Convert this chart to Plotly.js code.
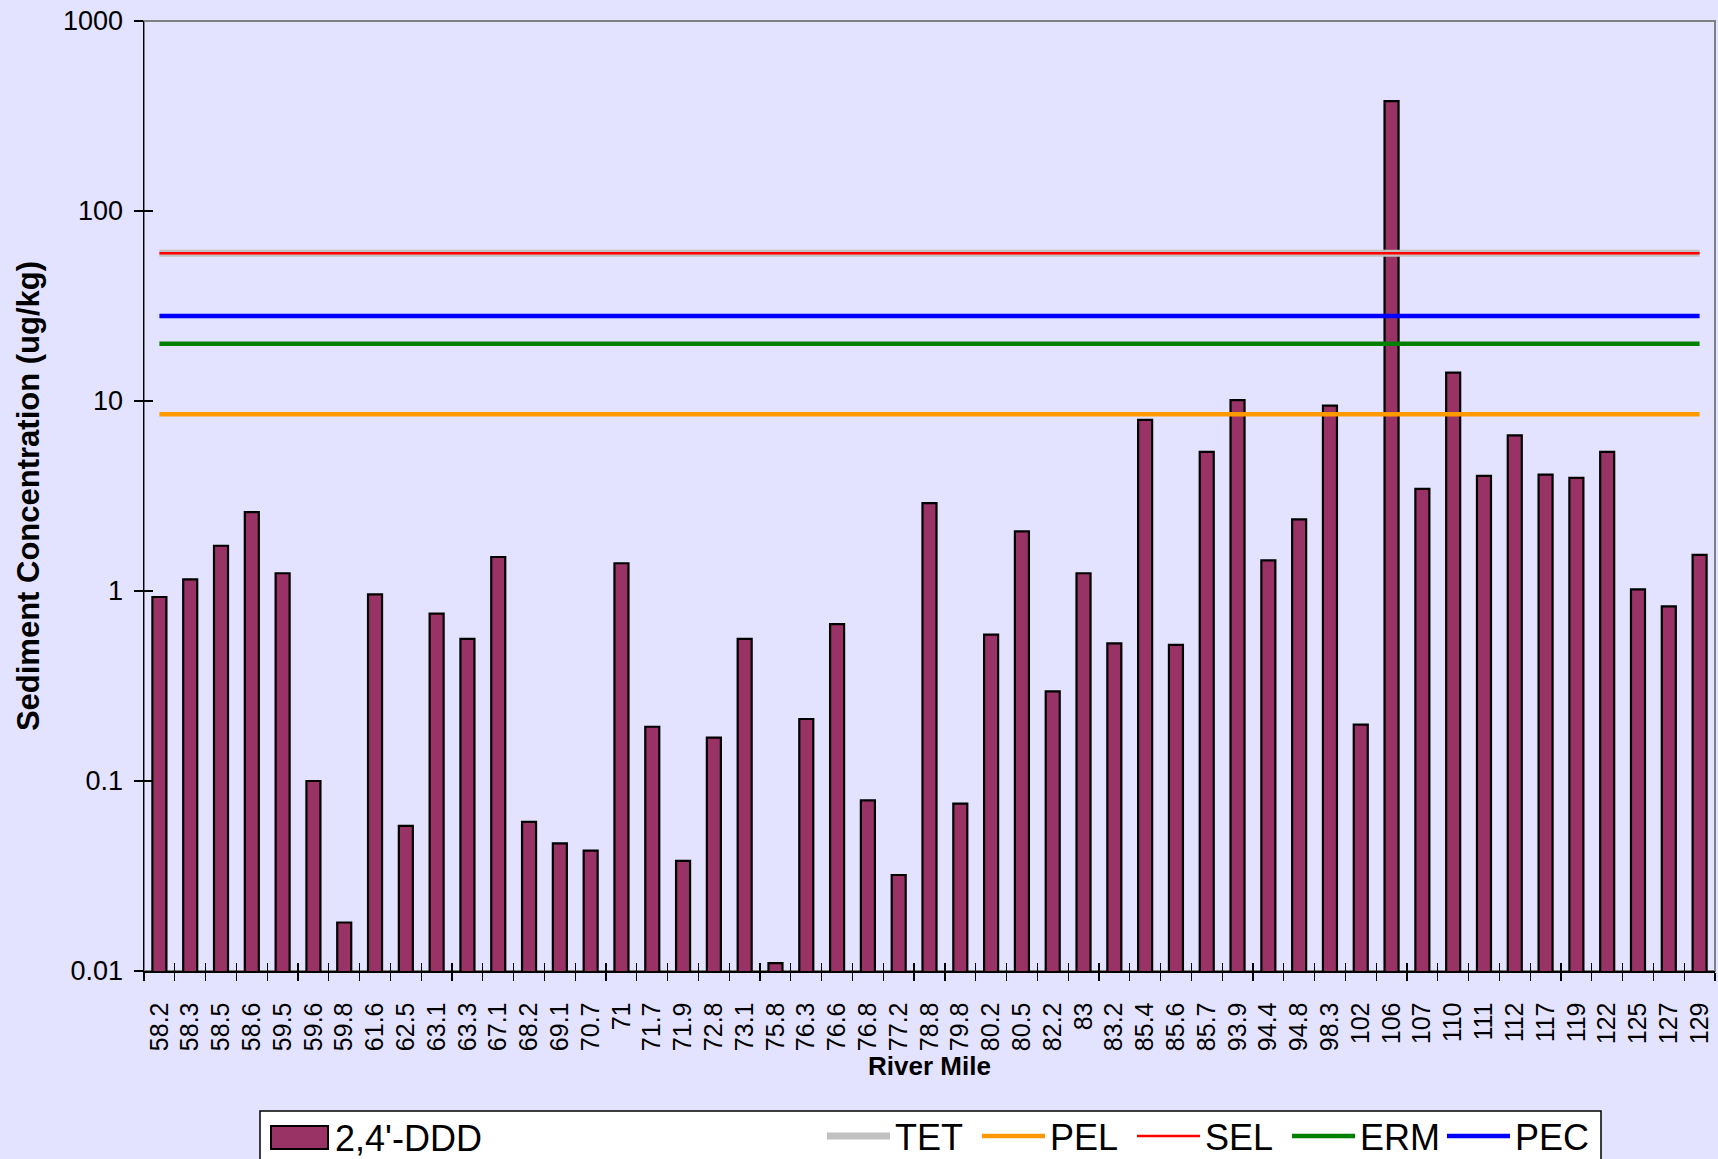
<!DOCTYPE html>
<html>
<head>
<meta charset="utf-8">
<script src="https://cdn.plot.ly/plotly-3.0.1.min.js"></script>
<style>
  html, body { margin: 0; padding: 0; background: #E3E3FF; }
  #chart { width: 1718px; height: 1159px; }
</style>
</head>
<body>
<div id="chart"></div>
<script>
// River mile categories
const riverMiles = ["58.2","58.3","58.5","58.6","59.5","59.6","59.8","61.6","62.5","63.1",
  "63.3","67.1","68.2","69.1","70.7","71","71.7","71.9","72.8","73.1",
  "75.8","76.3","76.6","76.8","77.2","78.8","79.8","80.2","80.5","82.2",
  "83","83.2","85.4","85.6","85.7","93.9","94.4","94.8","98.3","102",
  "106","107","110","111","112","117","119","122","125","127","129"];

// 2,4'-DDD sediment concentration (ug/kg)
const ddd = [0.93,1.15,1.73,2.6,1.24,0.1,0.018,0.96,0.058,0.76,
  0.56,1.51,0.061,0.047,0.043,1.4,0.193,0.038,0.169,0.56,
  0.011,0.212,0.67,0.079,0.032,2.9,0.076,0.59,2.06,0.296,
  1.24,0.53,7.96,0.52,5.4,10.1,1.45,2.38,9.46,0.198,
  379,3.45,14.1,4.04,6.6,4.1,3.94,5.4,1.02,0.83,1.55];

// Screening guideline values (ug/kg)
const TET = [60, 60];
const PEL = [8.51, 8.51];
const SEL = [60, 60];
const ERM = [20, 20];
const PEC = [28, 28];

const yTickVals = [0.01, 0.1, 1, 10, 100, 1000];
const yTickText = ["0.01", "0.1", "1", "10", "100", "1000"];

const lineX = [riverMiles[0], riverMiles[riverMiles.length - 1]];
const FONT = "Liberation Sans, Arial, sans-serif";
const BG = "#E3E3FF";

const traces = [
  {
    type: "bar", name: "2,4'-DDD", x: riverMiles, y: ddd,
    marker: { color: "#993366", line: { color: "#000000", width: 2.2 } },
    showlegend: false
  },
  { type: "scatter", mode: "lines", name: "TET", x: lineX, y: TET,
    line: { color: "#C0C0C0", width: 7 }, legend: "legend2" },
  { type: "scatter", mode: "lines", name: "PEL", x: lineX, y: PEL,
    line: { color: "#FF9900", width: 4.5 }, legend: "legend2" },
  { type: "scatter", mode: "lines", name: "SEL", x: lineX, y: SEL,
    line: { color: "#FF0000", width: 2.5 }, legend: "legend2" },
  { type: "scatter", mode: "lines", name: "ERM", x: lineX, y: ERM,
    line: { color: "#008000", width: 4.5 }, legend: "legend2" },
  { type: "scatter", mode: "lines", name: "PEC", x: lineX, y: PEC,
    line: { color: "#0000FF", width: 4.5 }, legend: "legend2" },
  // invisible trace to carry the overlay axes (inside tick marks)
  { type: "scatter", mode: "lines", x: lineX, y: PEC, xaxis: "x2", yaxis: "y2",
    line: { width: 0, color: "rgba(0,0,0,0)" }, showlegend: false, hoverinfo: "skip" }
];

const pxX = p => (p - 144) / 1571;
const pxY = p => (971 - p) / 950;

const layout = {
  width: 1718, height: 1159,
  paper_bgcolor: BG, plot_bgcolor: BG,
  margin: { l: 144, r: 3, t: 21, b: 188, autoexpand: false },
  font: { family: FONT, color: "#000000" },
  bargap: 0.545,
  xaxis: {
    type: "category", categoryorder: "array", categoryarray: riverMiles,
    range: [-0.5, riverMiles.length - 0.5],
    tickmode: "linear", tick0: 0, dtick: 1,
    tickangle: -90, tickfont: { size: 25, family: FONT },
    ticks: "outside", ticklen: 8, tickcolor: "#000", tickwidth: 1.2,
    tickson: "boundaries", ticklabelstandoff: 20,
    showline: true, linecolor: "#000", linewidth: 1.5,
    showgrid: false, zeroline: false,
    title: { text: "<b>River Mile</b>", font: { size: 26, family: FONT }, standoff: 5 },
    automargin: false
  },
  yaxis: {
    type: "log", range: [-2, 3],
    tickvals: yTickVals, ticktext: yTickText,
    tickfont: { size: 27, family: FONT },
    ticks: "outside", ticklen: 9, tickcolor: "#000", tickwidth: 1.2,
    ticklabelstandoff: 5,
    showline: true, linecolor: "#000", linewidth: 1.5,
    showgrid: false, zeroline: false,
    title: { text: "<b>Sediment Concentration (ug/kg)</b>", font: { size: 31, family: FONT }, standoff: 14 },
    automargin: false
  },
  xaxis2: {
    type: "category", categoryorder: "array", categoryarray: riverMiles,
    range: [-0.5, riverMiles.length - 0.5], overlaying: "x", side: "bottom",
    tickmode: "linear", tick0: 0, dtick: 1,
    ticks: "inside", ticklen: 8, tickcolor: "#000", tickwidth: 1.2,
    tickson: "boundaries", showticklabels: false, showgrid: false, showline: false, zeroline: false
  },
  yaxis2: {
    type: "log", range: [-2, 3], overlaying: "y", side: "left",
    tickvals: yTickVals, ticks: "inside", ticklen: 9, tickcolor: "#000", tickwidth: 1.2,
    showticklabels: false, showgrid: false, showline: false, zeroline: false
  },
  showlegend: true,
  legend2: {
    orientation: "h", x: pxX(822), xanchor: "left", y: pxY(1106), yanchor: "top",
    bgcolor: "rgba(0,0,0,0)", borderwidth: 0,
    font: { size: 36, family: FONT }, itemwidth: 63, traceorder: "normal",
    entrywidth: 77, entrywidthmode: "pixels"
  },
  shapes: [
    { type: "rect", xref: "paper", yref: "paper", x0: 0, x1: 1, y0: 0, y1: 1,
      line: { color: "#808080", width: 2 }, layer: "below" },
    { type: "rect", xref: "paper", yref: "paper", x0: pxX(260), x1: pxX(1601), y0: pxY(1111), y1: pxY(1175),
      fillcolor: "#FFFFFF", line: { color: "#000000", width: 1.5 }, layer: "below" },
    { type: "rect", xref: "paper", yref: "paper", x0: pxX(271), x1: pxX(328), y0: pxY(1126), y1: pxY(1149),
      fillcolor: "#993366", line: { color: "#000000", width: 2 } }
  ],
  annotations: [
    { xref: "paper", yref: "paper", x: pxX(333), y: pxY(1138), xanchor: "left", yanchor: "middle",
      text: "2,4'-DDD", showarrow: false, font: { size: 36, family: FONT, color: "#000" } }
  ]
};

Plotly.newPlot("chart", traces, layout, { displayModeBar: false, staticPlot: true });
</script>
</body>
</html>
